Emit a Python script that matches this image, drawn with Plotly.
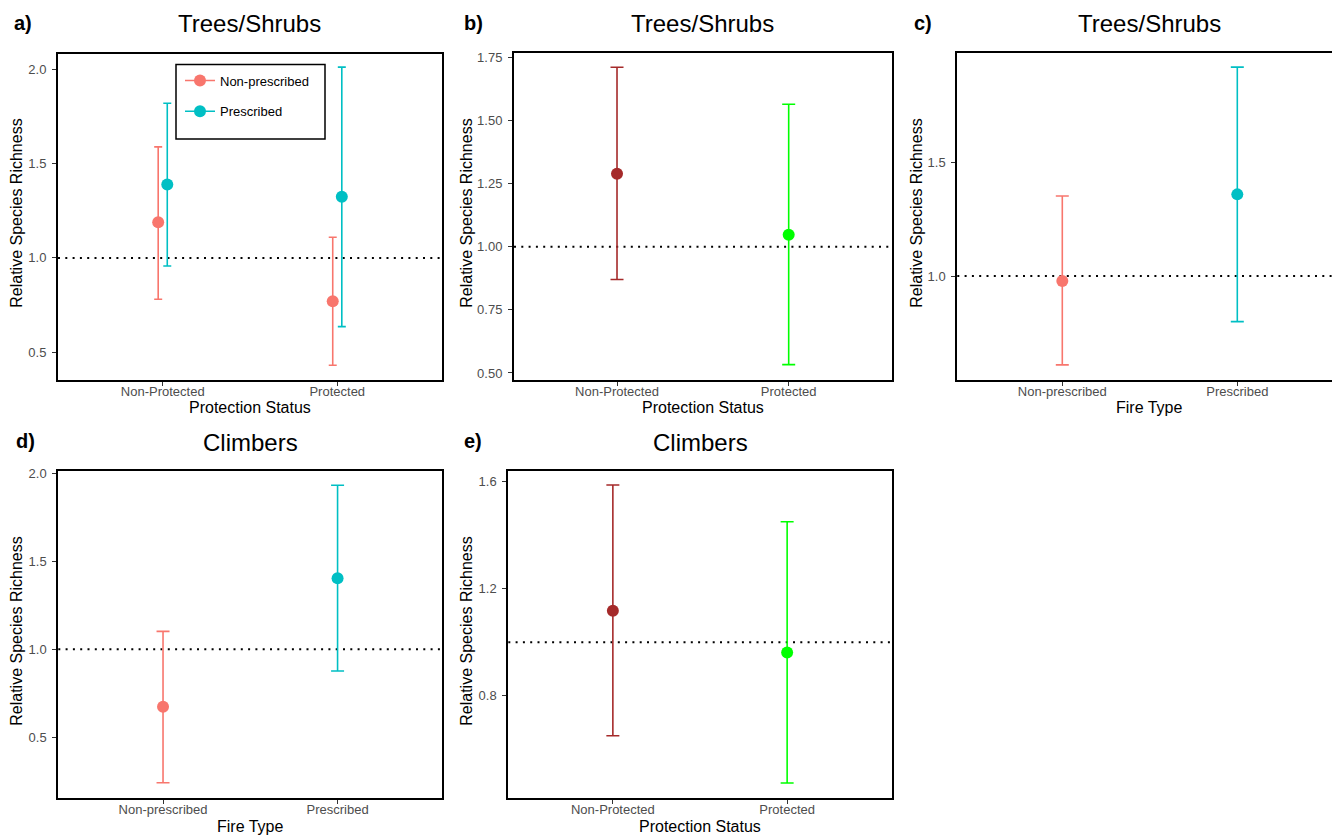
import plotly.graph_objects as go

# ---------------- data ----------------
prot_categories = ["Non-Protected", "Protected"]
fire_categories = ["Non-prescribed", "Prescribed"]

# a) Trees/Shrubs by protection status, split by fire type
a_nonpres_mean = [1.19, 0.77]
a_nonpres_lo = [0.78, 0.43]
a_nonpres_hi = [1.59, 1.11]
a_pres_mean = [1.39, 1.325]
a_pres_lo = [0.957, 0.635]
a_pres_hi = [1.822, 2.014]

# b) Trees/Shrubs by protection status
b_mean = [1.289, 1.047]
b_lo = [0.870, 0.533]
b_hi = [1.711, 1.564]

# c) Trees/Shrubs by fire type
c_mean = [0.978, 1.360]
c_lo = [0.608, 0.799]
c_hi = [1.353, 1.921]

# d) Climbers by fire type
d_mean = [0.674, 1.404]
d_lo = [0.243, 0.877]
d_hi = [1.102, 1.931]

# e) Climbers by protection status
e_mean = [1.117, 0.962]
e_lo = [0.651, 0.475]
e_hi = [1.586, 1.449]

# ---------------- styling ----------------
W, H = 1332, 838
FONT = "Liberation Sans, Arial, sans-serif"
RED = "#F8766D"
TEAL = "#00BFC4"
BROWN = "#A52A2A"
GREEN = "#00FF00"


def fx(px):
    return px / W


def fy(py):
    return 1 - py / H


fig = go.Figure()


def add_series(xax, yax, xs, mean, lo, hi, color, capw):
    fig.add_trace(go.Scatter(
        x=xs, y=mean, mode="markers",
        marker=dict(color=color, size=12),
        error_y=dict(type="data", symmetric=False,
                     array=[h - m for h, m in zip(hi, mean)],
                     arrayminus=[m - l for m, l in zip(mean, lo)],
                     color=color, thickness=1.6, width=capw),
        xaxis=xax, yaxis=yax, showlegend=False))


def add_points_multi(xax, yax, mean, lo, hi, colors, capw):
    # one trace per point so that each error bar gets its own colour
    for i in range(len(mean)):
        add_series(xax, yax, [i + 1], [mean[i]], [lo[i]], [hi[i]], colors[i], capw)


dodge = 0.026
# panel a
add_series("x", "y", [i + 1 - dodge for i in range(len(prot_categories))],
           a_nonpres_mean, a_nonpres_lo, a_nonpres_hi, RED, 4)
add_series("x", "y", [i + 1 + dodge for i in range(len(prot_categories))],
           a_pres_mean, a_pres_lo, a_pres_hi, TEAL, 4)
# legend entries (point-range glyph)
for nm, col in [("Non-prescribed", RED), ("Prescribed", TEAL)]:
    fig.add_trace(go.Scatter(x=[None], y=[None], mode="lines+markers", name=nm,
                             legendgroup=nm,
                             marker=dict(color=col, size=12),
                             line=dict(color=col, width=1.5),
                             xaxis="x", yaxis="y", showlegend=True))

add_points_multi("x2", "y2", b_mean, b_lo, b_hi, [BROWN, GREEN], 6.5)
add_points_multi("x3", "y3", c_mean, c_lo, c_hi, [RED, TEAL], 6.5)
add_points_multi("x4", "y4", d_mean, d_lo, d_hi, [RED, TEAL], 6.5)
add_points_multi("x5", "y5", e_mean, e_lo, e_hi, [BROWN, GREEN], 6.5)

# ---------------- axes ----------------
panels = [
    # key, x px domain, y px domain, xrange, yrange, yticks, yfmt, cats, mirror_right
    ("", (58, 442), (48, 377), [0.4, 2.6], [0.352, 2.086], [0.5, 1.0, 1.5, 2.0], ".1f", prot_categories, True),
    ("2", (514, 891.7), (47.7, 376.7), [0.4, 2.6], [0.474, 1.766], [0.5, 0.75, 1.0, 1.25, 1.5, 1.75], ".2f", prot_categories, True),
    ("3", (957.3, 1332), (47.7, 376.7), [0.4, 0.4 + (1332 - 957.3) / 175.0], [0.5435, 1.982], [1.0, 1.5], ".1f", fire_categories, False),
    ("4", (58.3, 442.3), (469.3, 798.3), [0.4, 2.6], [0.159, 2.0096], [0.5, 1.0, 1.5, 2.0], ".1f", fire_categories, True),
    ("5", (508.3, 891.7), (469.3, 798.3), [0.4, 2.6], [0.4205, 1.637], [0.8, 1.2, 1.6], ".1f", prot_categories, True),
]

layout_axes = {}
shapes = []
for key, (x0, x1), (y0, y1), xr, yr, yt, yfmt, cats, mir in panels:
    layout_axes["xaxis" + key] = dict(
        domain=[fx(x0), fx(x1)], range=xr, anchor="y" + key,
        tickmode="array", tickvals=[i + 1 for i in range(len(cats))], ticktext=cats,
        showline=True, linecolor="black", linewidth=2, mirror=True,
        ticks="outside", ticklen=4, tickcolor="#333333", tickwidth=1,
        ticklabelstandoff=-5,
        tickfont=dict(family=FONT, size=13, color="#4D4D4D"),
        showgrid=False, zeroline=False, fixedrange=True)
    layout_axes["yaxis" + key] = dict(
        domain=[fy(y1), fy(y0)], range=yr, anchor="x" + key,
        tickmode="array", tickvals=yt, tickformat=yfmt,
        showline=True, linecolor="black", linewidth=2, mirror=mir,
        ticks="outside", ticklen=4, tickcolor="#333333", tickwidth=1,
        ticklabelstandoff=3,
        tickfont=dict(family=FONT, size=13, color="#4D4D4D"),
        showgrid=False, zeroline=False, fixedrange=True)
    shapes.append(dict(type="line", xref="x" + key + " domain", x0=0, x1=1,
                       yref="y" + key, y0=1, y1=1,
                       line=dict(color="black", width=2, dash="2px,5.3px"), layer="below"))

# legend frame (panel a)
shapes.append(dict(type="rect", xref="paper", yref="paper",
                   x0=fx(176), x1=fx(325), y0=fy(134), y1=fy(59),
                   line=dict(color="black", width=1.5), fillcolor="rgba(0,0,0,0)"))

# ---------------- annotations ----------------
ann = []
titles = [
    ("a)", 12, 17, "Trees/Shrubs", 250, 18, "Protection Status", 405, 17, 209.5),
    ("b)", 462, 17, "Trees/Shrubs", 702.8, 18, "Protection Status", 405, 467, 209.5),
    ("c)", 912, 17, "Trees/Shrubs", 1149.5, 18, "Fire Type", 405, 917, 209.5),
    ("d)", 14, 439, "Climbers", 250.3, 440, "Fire Type", 827, 17, 631),
    ("e)", 462, 439, "Climbers", 700, 440, "Protection Status", 827, 467, 631),
]
for lab, lx, ly, t, tx, ty, xt, xty, ytx, yty in titles:
    ann.append(dict(text="<b>" + lab + "</b>", x=fx(lx), y=fy(ly), xref="paper", yref="paper",
                    xanchor="left", yanchor="middle", showarrow=False,
                    font=dict(family=FONT, size=20, color="black")))
    ann.append(dict(text=t, x=fx(tx), y=fy(ty), xref="paper", yref="paper",
                    xanchor="center", yanchor="middle", showarrow=False,
                    font=dict(family=FONT, size=24, color="black")))
    ann.append(dict(text=xt, x=fx(tx), y=fy(xty), xref="paper", yref="paper",
                    xanchor="center", yanchor="middle", showarrow=False,
                    font=dict(family=FONT, size=16, color="black")))
    ann.append(dict(text="Relative Species Richness", x=fx(ytx), y=fy(yty), xref="paper", yref="paper",
                    xanchor="center", yanchor="middle", showarrow=False, textangle=-90,
                    font=dict(family=FONT, size=16, color="black")))

fig.update_layout(
    width=W, height=H, autosize=False,
    margin=dict(l=0, r=0, t=0, b=0),
    paper_bgcolor="white", plot_bgcolor="white",
    font=dict(family=FONT),
    shapes=shapes, annotations=ann,
    showlegend=True,
    legend=dict(x=fx(180), y=fy(60), xanchor="left", yanchor="top",
                borderwidth=0, bgcolor="rgba(0,0,0,0)",
                font=dict(family=FONT, size=13, color="black"),
                tracegroupgap=11, itemwidth=30),
    **layout_axes,
)

fig.write_html("out.html", config={"displayModeBar": False},
               post_script="document.body.style.margin='0px';document.body.style.padding='0px';")
